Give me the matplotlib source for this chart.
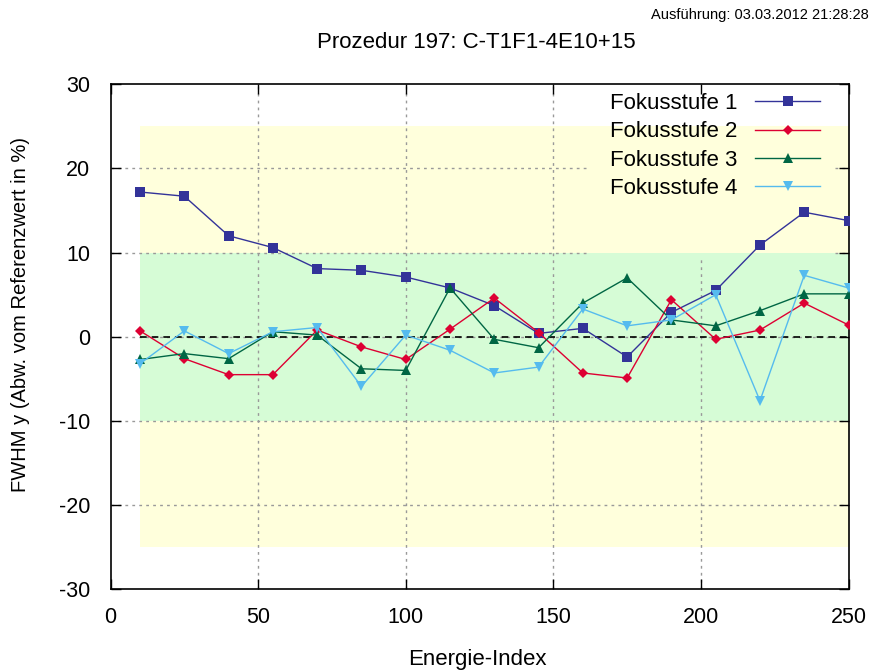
import matplotlib
matplotlib.use("Agg")
import matplotlib.pyplot as plt

plt.rcParams['font.family'] = ['Liberation Sans', 'DejaVu Sans']
plt.rcParams['axes.unicode_minus'] = False

energie_index = [10, 25, 40, 55, 70, 85, 100, 115, 130, 145, 160, 175, 190, 205, 220, 235, 250]

fokus1 = [17.2, 16.7, 12.0, 10.6, 8.1, 7.9, 7.1, 5.8, 3.7, 0.4, 1.0, -2.4, 2.9, 5.5, 10.9, 14.8, 13.8]
fokus2 = [0.7, -2.6, -4.5, -4.5, 0.8, -1.2, -2.7, 0.9, 4.6, 0.5, -4.3, -4.9, 4.4, -0.3, 0.8, 4.0, 1.4]
fokus3 = [-2.7, -2.0, -2.6, 0.6, 0.2, -3.8, -4.0, 5.8, -0.3, -1.3, 4.0, 7.0, 2.0, 1.3, 3.1, 5.1, 5.1]
fokus4 = [-3.2, 0.7, -2.0, 0.6, 1.1, -5.9, 0.2, -1.6, -4.3, -3.6, 3.3, 1.3, 2.0, 5.0, -7.6, 7.3, 5.8]

labels = ["Fokusstufe 1", "Fokusstufe 2", "Fokusstufe 3", "Fokusstufe 4"]
colors = ["#333399", "#dd0033", "#006644", "#55bbee"]
markers = ["s", "D", "^", "v"]
msizes = [6.5, 5.3, 7, 7]

x_ticks = [0, 50, 100, 150, 200, 250]
y_ticks = [-30, -20, -10, 0, 10, 20, 30]

# tolerance bands
band_outer = (-25, 25)
band_inner = (-10, 10)

fig = plt.figure(figsize=(8.71, 6.71), dpi=100)
ax = fig.add_axes([0.1269, 0.1218, 0.8473, 0.7526])
ax.set_xlim(0, 250)
ax.set_ylim(-30, 30)

x0, x1 = energie_index[0], energie_index[-1]
ax.fill_between([x0, x1], band_outer[0], band_outer[1], color="#ffffdc", lw=0, zorder=0)
ax.fill_between([x0, x1], band_inner[0], band_inner[1], color="#d6fcd6", lw=0, zorder=0.1)

# dotted grid, left open where the key sits
grid_kw = dict(color="#999999", lw=1.0, ls=(0, (2, 3)), zorder=0.5)
key_x = (162.0, 245.4)
key_y = 9.4
for yv in y_ticks[1:-1]:
    if yv > key_y:
        ax.plot([0, key_x[0]], [yv, yv], **grid_kw)
        ax.plot([key_x[1], 250], [yv, yv], **grid_kw)
    else:
        ax.plot([0, 250], [yv, yv], **grid_kw)
for xv in x_ticks[1:-1]:
    if key_x[0] < xv < key_x[1]:
        ax.plot([xv, xv], [-30, key_y], **grid_kw)
    else:
        ax.plot([xv, xv], [-30, 30], **grid_kw)

ax.plot([x0, x1], [0, 0], color="black", lw=1.2, ls=(0, (4, 3)), zorder=1)

series = [fokus1, fokus2, fokus3, fokus4]
for vals, lab, c, m, ms in zip(series, labels, colors, markers, msizes):
    ax.plot(energie_index, vals, color=c, lw=1.0, marker=m, markersize=ms,
            markeredgewidth=0, label=lab, zorder=3)

ax.set_xticks(x_ticks)
ax.set_yticks(y_ticks)
ax.tick_params(direction="in", length=7, width=1, top=True, right=True,
               labelsize=15.5, colors="black")
ax.tick_params(axis="x", pad=13)
ax.tick_params(axis="y", pad=14.5)
for s in ax.spines.values():
    s.set_linewidth(1.2)

ax.set_xlabel("Energie-Index", fontsize=16, va="center")
ax.set_ylabel("FWHM y (Abw. vom Referenzwert in %)", fontsize=14.5, va="center")
ax.xaxis.set_label_coords(0.4966, -0.14)
ax.yaxis.set_label_coords(-0.1226, 0.544)

leg = ax.legend(loc="upper right", bbox_to_anchor=(0.9736, 1.0), frameon=False,
                markerfirst=False, fontsize=16, handlelength=2.93,
                handletextpad=0.81, labelspacing=0.33, borderaxespad=0.0)

fig.text(0.5465, 0.937, "Prozedur 197: C-T1F1-4E10+15", ha="center", va="center", fontsize=16)
fig.text(0.997, 0.978, "Ausführung: 03.03.2012 21:28:28", ha="right", va="center", fontsize=10.5)

fig.savefig("out.png", dpi=100)
